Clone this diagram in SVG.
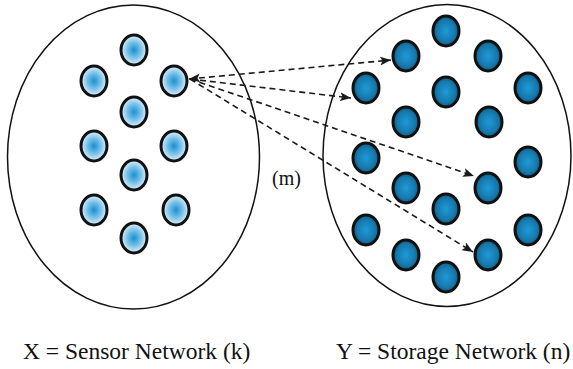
<svg xmlns="http://www.w3.org/2000/svg" width="573" height="369" viewBox="0 0 573 369">
<defs>
<radialGradient id="gLight" cx="50%" cy="50%" r="50%">
<stop offset="0" stop-color="#1a8fd0"/>
<stop offset="0.55" stop-color="#7cc3ea"/>
<stop offset="1" stop-color="#e3f2fb"/>
</radialGradient>
<radialGradient id="gDark" cx="50%" cy="50%" r="50%">
<stop offset="0" stop-color="#1e9ad8"/>
<stop offset="0.7" stop-color="#1679ad"/>
<stop offset="1" stop-color="#0f5a82"/>
</radialGradient>
<marker id="arr" markerUnits="userSpaceOnUse" markerWidth="11" markerHeight="9" refX="11" refY="4.5" orient="auto-start-reverse">
<path d="M0,0 L11,4.5 L0,9 L2.5,4.5 z" fill="#1a1a1a"/>
</marker>
<ellipse id="n" rx="13" ry="15" stroke="#111" stroke-width="3"/>
</defs>
<style>
.set{fill:none;stroke:#111;stroke-width:1.5}
.light{fill:url(#gLight)}
.dark{fill:url(#gDark)}
.edge{fill:none;stroke:#1a1a1a;stroke-width:1.6;stroke-dasharray:6 4}
.lbl{font-family:"Liberation Serif","Times New Roman",serif;fill:#111}
</style>
<g id="setX">
<ellipse class="set" cx="133.5" cy="157" rx="126" ry="152"/>
</g>
<g id="setY">
<ellipse class="set" cx="447" cy="155.5" rx="124" ry="151"/>
</g>
<g id="sensors">
<use href="#n" class="light" x="134" y="50"/>
<use href="#n" class="light" x="94" y="81"/>
<use href="#n" class="light" x="174" y="81"/>
<use href="#n" class="light" x="134" y="112"/>
<use href="#n" class="light" x="94" y="146"/>
<use href="#n" class="light" x="174" y="146"/>
<use href="#n" class="light" x="134" y="175"/>
<use href="#n" class="light" x="94" y="210"/>
<use href="#n" class="light" x="176" y="210"/>
<use href="#n" class="light" x="134" y="238"/>
</g>
<g id="storage">
<use href="#n" class="dark" x="446" y="31"/>
<use href="#n" class="dark" x="406" y="56"/>
<use href="#n" class="dark" x="488" y="56"/>
<use href="#n" class="dark" x="366" y="88"/>
<use href="#n" class="dark" x="446" y="92"/>
<use href="#n" class="dark" x="528" y="88"/>
<use href="#n" class="dark" x="406" y="122"/>
<use href="#n" class="dark" x="489" y="122"/>
<use href="#n" class="dark" x="366" y="158"/>
<use href="#n" class="dark" x="528" y="162"/>
<use href="#n" class="dark" x="406" y="188"/>
<use href="#n" class="dark" x="488" y="188"/>
<use href="#n" class="dark" x="446" y="209"/>
<use href="#n" class="dark" x="366" y="230"/>
<use href="#n" class="dark" x="528" y="230"/>
<use href="#n" class="dark" x="406" y="255"/>
<use href="#n" class="dark" x="488" y="255"/>
<use href="#n" class="dark" x="446" y="277"/>
</g>
<g id="connectors">
<line class="edge" x1="189" y1="79" x2="391" y2="60" marker-start="url(#arr)" marker-end="url(#arr)"/>
<line class="edge" x1="190" y1="79" x2="351" y2="98" marker-end="url(#arr)"/>
<line class="edge" x1="190" y1="79" x2="474" y2="176" marker-end="url(#arr)"/>
<line class="edge" x1="190" y1="79" x2="473" y2="252" marker-end="url(#arr)"/>
</g>
<text class="lbl" x="272" y="185" font-size="20">(m)</text>
<text class="lbl" x="23" y="359" font-size="23.5">X = Sensor Network (k)</text>
<text class="lbl" x="336" y="359" font-size="23.5">Y = Storage Network (n)</text>
</svg>
